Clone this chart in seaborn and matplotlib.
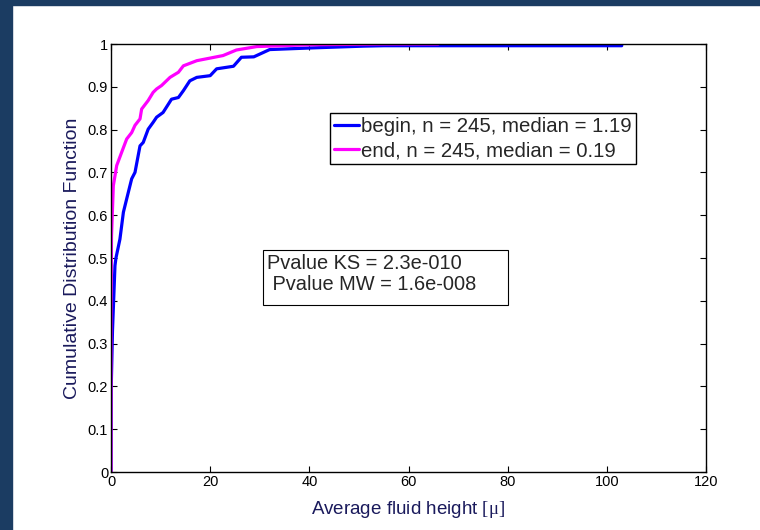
import numpy as np
import pandas as pd
import seaborn as sns
import matplotlib.pyplot as plt
from matplotlib.patches import Rectangle

# values (cumulative distribution curves)
begin_x = [0, 0.05, 0.3, 0.8, 1.0, 1.8, 2.5, 3.16, 4.17, 4.84, 5.85, 6.5, 7.5, 8.5, 9.2,
           10.5, 11.6, 12.2, 13.6, 14.6, 15.9, 17.3, 20, 21.3, 24.7, 26.3, 28.8, 32,
           40.8, 50.9, 55, 103, 103]
begin_y = [0, 0.2, 0.33, 0.482, 0.5, 0.544, 0.607, 0.638, 0.685, 0.70, 0.762, 0.77, 0.801,
           0.817, 0.829, 0.840, 0.860, 0.871, 0.875, 0.891, 0.914, 0.922, 0.926, 0.942,
           0.948, 0.969, 0.97, 0.987, 0.991, 0.995, 0.996, 0.996, 1.0]

end_x = [0, 0, 0.1, 0.47, 1.15, 2.15, 3.16, 4.17, 4.84, 5.85, 6.18, 7.5, 8.5, 9.2, 10.2,
         11.9, 13.6, 14.6, 17.3, 22.6, 25.3, 29.4, 39.4, 55, 66]
end_y = [0, 0.35, 0.55, 0.669, 0.716, 0.747, 0.778, 0.793, 0.810, 0.825, 0.848, 0.868,
         0.887, 0.895, 0.903, 0.922, 0.934, 0.949, 0.961, 0.973, 0.986, 0.994, 0.998,
         1.0, 1.0]

labels = ["begin, n = 245, median = 1.19", "end, n = 245, median = 0.19"]
colors = ["#0000ff", "#ff00ff"]
pvalue_text = "Pvalue KS = 2.3e-010\n Pvalue MW = 1.6e-008"

x_ticks = [0, 20, 40, 60, 80, 100, 120]
y_ticks = [0, 0.1, 0.2, 0.3, 0.4, 0.5, 0.6, 0.7, 0.8, 0.9, 1]
y_ticklabels = ["0", "0.1", "0.2", "0.3", "0.4", "0.5", "0.6", "0.7", "0.8", "0.9", "1"]

df = pd.concat([
    pd.DataFrame({"x": begin_x, "y": begin_y, "grp": labels[0]}),
    pd.DataFrame({"x": end_x, "y": end_y, "grp": labels[1]}),
])

sns.set_style("ticks")
plt.rcParams['font.family'] = ['Liberation Sans', 'DejaVu Sans']
plt.rcParams['mathtext.fontset'] = 'custom'
plt.rcParams['mathtext.rm'] = 'Liberation Serif'
plt.rcParams['mathtext.it'] = 'Liberation Serif'

fig = plt.figure(figsize=(7.6, 5.3), dpi=100, facecolor="white")
# dark slide border on top and left
fig.patches.append(Rectangle((0, 0), 12 / 760, 1, transform=fig.transFigure,
                             color="#1b3c62", zorder=0))
fig.patches.append(Rectangle((0, 1 - 5 / 530), 1, 5 / 530, transform=fig.transFigure,
                             color="#1b3c62", zorder=0))

ax = fig.add_axes([111 / 760, 58 / 530, 595 / 760, 428 / 530])
sns.lineplot(data=df, x="x", y="y", hue="grp", palette=colors, sort=False,
             estimator=None, linewidth=2.3, ax=ax)

ax.set_xlim(0, 120)
ax.set_ylim(0, 1)
ax.set_xticks(x_ticks)
ax.set_yticks(y_ticks)
ax.set_yticklabels(y_ticklabels)
ax.tick_params(direction="in", length=4, width=0.8, labelsize=10.5, top=True, right=True,
               colors="black", pad=2)
for s in ax.spines.values():
    s.set_linewidth(1.0)
    s.set_color("black")

ax.set_xlabel(r"Average fluid height $\mathrm{[\mu]}$", fontsize=13.5, color="#1a1a5c",
              labelpad=7)
ax.set_ylabel("Cumulative Distribution Function", fontsize=14, color="#1a1a5c",
              labelpad=5)

leg = ax.legend(loc="upper left", bbox_to_anchor=(0.368, 0.839), fontsize=14.7,
                handlelength=1.2, handletextpad=0.12, borderpad=0.2,
                labelspacing=0.25, borderaxespad=0, fancybox=False, framealpha=1,
                edgecolor="black")
leg.get_frame().set_linewidth(1.0)

ax.add_patch(Rectangle((0.2555, 0.390), 0.4115, 0.129, transform=ax.transAxes,
                       facecolor="white", edgecolor="black", linewidth=0.8, zorder=5))
ax.text(0.262, 0.509, pvalue_text, transform=ax.transAxes, fontsize=14.4, va="top",
        ha="left", linespacing=1.15, zorder=6)

fig.savefig("out.png", dpi=100)
